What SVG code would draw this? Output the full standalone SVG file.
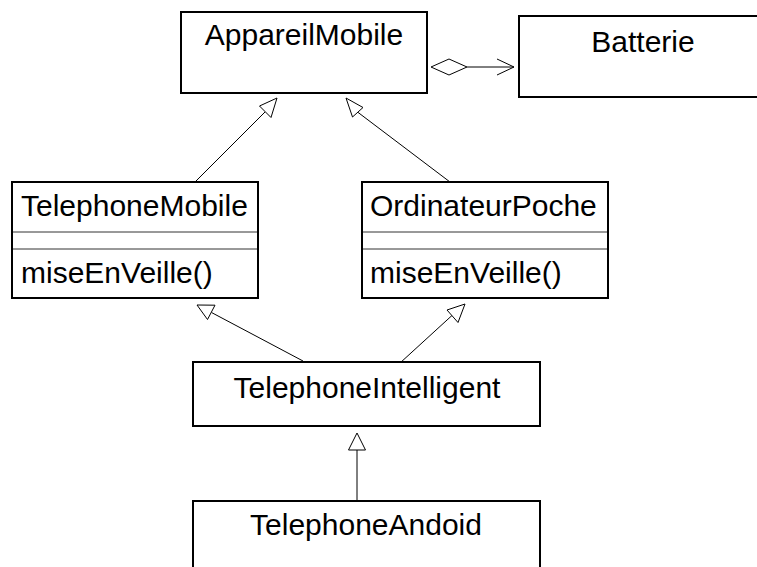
<svg xmlns="http://www.w3.org/2000/svg" width="757" height="567" viewBox="0 0 757 567">
  <style>
    .box { fill: #ffffff; stroke: #000000; stroke-width: 2; }
    .sep { stroke: #333333; stroke-width: 1; fill: none; }
    .lbl { font-family: "Liberation Sans", Arial, sans-serif; font-size: 30px; fill: #000000; }
    .mid { text-anchor: middle; }
    .edge { stroke: #000000; stroke-width: 1; fill: none; }
    .head { stroke: #000000; stroke-width: 1; fill: #ffffff; }
  </style>
  <rect width="757" height="567" fill="#ffffff"/>

  <g id="connectors">
    <!-- aggregation: AppareilMobile <>-> Batterie -->
    <g id="agg-appareil-batterie">
      <line class="edge" x1="467" y1="67" x2="514" y2="67"/>
      <polygon class="head" points="431,67 449,59 467,67 449,75"/>
      <polyline class="edge" points="497,59 514,67 497,75"/>
    </g>
    <!-- TelephoneMobile generalises AppareilMobile -->
    <g id="gen-telmobile-appareil">
      <line class="edge" x1="195" y1="182" x2="265" y2="112"/>
      <polygon class="head" points="277,98 259.5,106 271,117.5"/>
    </g>
    <!-- OrdinateurPoche generalises AppareilMobile -->
    <g id="gen-ordinateur-appareil">
      <line class="edge" x1="450" y1="182" x2="357.5" y2="112"/>
      <polygon class="head" points="346,98 352.5,117 363,107.5"/>
    </g>
    <!-- TelephoneIntelligent generalises TelephoneMobile -->
    <g id="gen-intelligent-telmobile">
      <line class="edge" x1="303" y1="361" x2="211.5" y2="312.5"/>
      <polygon class="head" points="197,305 207.5,319.5 215,305.2"/>
    </g>
    <!-- TelephoneIntelligent generalises OrdinateurPoche -->
    <g id="gen-intelligent-ordinateur">
      <line class="edge" x1="400" y1="363" x2="452.5" y2="315"/>
      <polygon class="head" points="465,304 447,310 458,322.5"/>
    </g>
    <!-- TelephoneAndoid generalises TelephoneIntelligent -->
    <g id="gen-andoid-intelligent">
      <line class="edge" x1="357" y1="450" x2="357" y2="501"/>
      <polygon class="head" points="357,433 348.5,450 365.5,450"/>
    </g>
  </g>

  <g id="AppareilMobile">
    <rect class="box" x="181" y="12" width="246" height="81"/>
    <text class="lbl mid" x="304" y="45">AppareilMobile</text>
  </g>

  <g id="Batterie">
    <rect class="box" x="519" y="16" width="260" height="81"/>
    <text class="lbl mid" x="643" y="52">Batterie</text>
  </g>

  <g id="TelephoneMobile">
    <rect class="box" x="12" y="182" width="246" height="116"/>
    <line class="sep" x1="13" y1="232" x2="257" y2="232"/>
    <line class="sep" x1="13" y1="249" x2="257" y2="249"/>
    <text class="lbl" x="21" y="216">TelephoneMobile</text>
    <text class="lbl" x="21" y="283">miseEnVeille()</text>
  </g>

  <g id="OrdinateurPoche">
    <rect class="box" x="362" y="182" width="246" height="116"/>
    <line class="sep" x1="363" y1="232" x2="607" y2="232"/>
    <line class="sep" x1="363" y1="249" x2="607" y2="249"/>
    <text class="lbl" x="370" y="216">OrdinateurPoche</text>
    <text class="lbl" x="370" y="283">miseEnVeille()</text>
  </g>

  <g id="TelephoneIntelligent">
    <rect class="box" x="193" y="362" width="347" height="64"/>
    <text class="lbl mid" x="367" y="398">TelephoneIntelligent</text>
  </g>

  <g id="TelephoneAndoid">
    <rect class="box" x="193" y="501" width="347" height="80"/>
    <text class="lbl mid" x="366" y="535">TelephoneAndoid</text>
  </g>
</svg>
